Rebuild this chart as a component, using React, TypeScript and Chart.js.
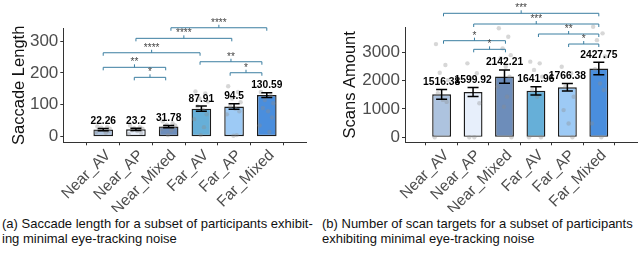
import React, { useEffect, useRef } from 'react';
import { Chart, registerables } from 'chart.js';
Chart.register(...registerables);

const FONT = "'Liberation Sans', Arial, Helvetica, sans-serif";

const categories = ['Near_AV', 'Near_AP', 'Near_Mixed', 'Far_AV', 'Far_AP', 'Far_Mixed'];
const barColors = ['#adc3df', '#e7effb', '#6d8dba', '#66afd8', '#9dcaf5', '#4a8edd'];

// (a) Saccade length
const saccadeMeans = [22.26, 23.2, 31.78, 87.91, 94.5, 130.59];
const saccadeLabels = ['22.26', '23.2', '31.78', '87.91', '94.5', '130.59'];
const saccadeSE = [3.5, 3.5, 3.5, 8, 8.5, 7.5];
const saccadeTicks = [0, 100, 200, 300];
const saccadePoints = [
  [32, 30, 28, 25, 22, 20, 18, 15, 12],
  [35, 30, 27, 25, 20, 18, 12, 8],
  [48, 42, 38, 35, 32, 30, 28, 25, 20, 5],
  [142, 136, 120, 110, 95, 85, 70, 55, 30, 5],
  [158, 140, 120, 108, 95, 88, 80, 70, 5, 3],
  [140, 128, 115, 105, 90, 80, 60, 35, 15],
];
const saccadeBrackets = [
  { from: 2.07, to: 5.0, y: 341.7, label: '****' },
  { from: 1.0, to: 3.93, y: 308.5, label: '****' },
  { from: 0.0, to: 2.96, y: 263.3, label: '****' },
  { from: 0.0, to: 1.91, y: 217.6, label: '**' },
  { from: 0.95, to: 1.91, y: 186.2, label: '*' },
  { from: 2.96, to: 4.85, y: 235.1, label: '**' },
  { from: 3.88, to: 4.85, y: 200.6, label: '*' },
];

// (b) Scans amount
const scansMeans = [1516.38, 1599.92, 2142.21, 1641.96, 1766.38, 2427.75];
const scansLabels = ['1516.38', '1599.92', '2142.21', '1641.96', '1766.38', '2427.75'];
const scansSE = [170, 160, 235, 145, 130, 220];
const scansTicks = [0, 1000, 2000, 3000];
const scansPoints = [
  [3290, 2550, 2280, 2020, 1560, 1320, 1250, 0],
  [2610, 2260, 2080, 1200, 0, 0],
  [3850, 3550, 3140, 2900, 2790, 2490, 2140, 1790, 1430, 1080, 0],
  [2670, 2610, 2380, 2140, 1670, 1430, 0, 0],
  [2490, 2260, 1790, 1430, 960, 490, 0],
  [3900, 3670, 3430, 2850, 2400, 1900, 1670, 490, 0],
];
const scansBrackets = [
  { from: 0.06, to: 5.0, y: 4377, label: '***' },
  { from: 1.02, to: 5.0, y: 3999, label: '***' },
  { from: 3.08, to: 5.0, y: 3646, label: '**' },
  { from: 0.06, to: 2.03, y: 3410, label: '*' },
  { from: 4.04, to: 5.0, y: 3293, label: '*' },
  { from: 1.02, to: 2.03, y: 3106, label: '*' },
];

const JITTER = [-0.18, 0.12, -0.06, 0.2, -0.12, 0.04, 0.16, -0.22, 0.08, -0.02, 0.22, -0.14];

type Bracket = { from: number; to: number; y: number; label: string };

type PanelProps = {
  width: number;
  height: number;
  means: number[];
  labels: string[];
  se: number[];
  ticks: number[];
  points: number[][];
  brackets: Bracket[];
  yMin: number;
  yMax: number;
  xMin: number;
  xMax: number;
  title: string;
  titlePad: number;
  axisWidth: number;
  padTop: number;
  padRight: number;
  plotBottom: number;
  tickFont: number;
  valueFont: number;
};

function Panel(p: PanelProps) {
  const ref = useRef<HTMLCanvasElement | null>(null);
  useEffect(() => {
    const canvas = ref.current!;
    const overlay = {
      id: 'overlay',
      afterDatasetsDraw(chart: any) {
        const ctx = chart.ctx;
        const xs = chart.scales.x;
        const ys = chart.scales.y;
        ctx.save();
        // error bars and value labels
        ctx.strokeStyle = '#000';
        ctx.lineWidth = 1.5;
        p.means.forEach((m, i) => {
          const x = xs.getPixelForValue(i);
          const yt = ys.getPixelForValue(m + p.se[i]);
          const yb = ys.getPixelForValue(m - p.se[i]);
          ctx.beginPath();
          ctx.moveTo(x, yt); ctx.lineTo(x, yb);
          ctx.moveTo(x - 5.5, yt); ctx.lineTo(x + 5.5, yt);
          ctx.moveTo(x - 5.5, yb); ctx.lineTo(x + 5.5, yb);
          ctx.stroke();
          ctx.fillStyle = '#000';
          ctx.font = `bold ${p.valueFont}px ${FONT}`;
          ctx.textAlign = 'center';
          ctx.textBaseline = 'alphabetic';
          ctx.fillText(p.labels[i], x, yt - 4.5);
        });
        // significance brackets
        ctx.strokeStyle = '#3b7ea1';
        ctx.lineWidth = 1;
        p.brackets.forEach((b) => {
          const x1 = xs.getPixelForValue(b.from);
          const x2 = xs.getPixelForValue(b.to);
          const y = ys.getPixelForValue(b.y);
          const xm = (x1 + x2) / 2;
          ctx.beginPath();
          ctx.moveTo(x1, y + 3); ctx.lineTo(x1, y); ctx.lineTo(x2, y); ctx.lineTo(x2, y + 3);
          ctx.moveTo(xm, y); ctx.lineTo(xm, y - 3);
          ctx.stroke();
          ctx.fillStyle = '#444';
          ctx.font = `10px ${FONT}`;
          ctx.textAlign = 'center';
          ctx.textBaseline = 'alphabetic';
          ctx.fillText(b.label, xm, y - 2);
        });
        ctx.restore();
      },
    };
    const scatterData: { x: number; y: number }[] = [];
    p.points.forEach((vals, ci) =>
      vals.forEach((v, j) => scatterData.push({ x: ci + JITTER[j % JITTER.length], y: v }))
    );
    const chart = new Chart(canvas, {
      type: 'bar',
      data: {
        datasets: [
          {
            type: 'bar',
            data: p.means.map((m, i) => ({ x: i, y: m })),
            backgroundColor: barColors,
            borderColor: '#1c1c1c',
            borderWidth: 1.4,
            borderSkipped: false,
            barPercentage: 0.6,
            categoryPercentage: 1,
            order: 2,
          } as any,
          {
            type: 'scatter',
            data: scatterData,
            backgroundColor: 'rgba(140,140,140,0.35)',
            borderWidth: 0,
            pointRadius: 2.2,
            clip: false,
            order: 1,
          } as any,
        ],
      },
      options: {
        responsive: false,
        animation: false,
        devicePixelRatio: 1,
        layout: { padding: { top: p.padTop, right: p.padRight, left: 0, bottom: 0 } },
        plugins: { legend: { display: false }, tooltip: { enabled: false } },
        scales: {
          x: {
            type: 'linear',
            min: p.xMin,
            max: p.xMax,
            afterBuildTicks: (s: any) => { s.ticks = categories.map((_, i) => ({ value: i })); },
            afterFit: (s: any) => { s.height = p.height - p.plotBottom; },
            ticks: {
              autoSkip: false,
              minRotation: 45,
              maxRotation: 45,
              padding: 1,
              labelOffset: 5,
              color: '#4d4d4d',
              font: { family: FONT, size: 15.5 },
              callback: (v: any) => categories[v] ?? '',
            },
            grid: { display: true, drawOnChartArea: false, drawTicks: true, tickLength: 3, color: '#333' },
            border: { display: true, color: '#333', width: 1 },
          },
          y: {
            type: 'linear',
            min: p.yMin,
            max: p.yMax,
            afterBuildTicks: (s: any) => { s.ticks = p.ticks.map((v) => ({ value: v })); },
            afterFit: (s: any) => { s.width = p.axisWidth; },
            ticks: {
              padding: 2,
              color: '#4d4d4d',
              font: { family: FONT, size: p.tickFont },
              callback: (v: any) => String(v),
            },
            title: {
              display: true,
              text: p.title,
              color: '#111',
              font: { family: FONT, size: 16.5 },
              padding: { top: p.titlePad, bottom: 0 },
            },
            grid: { display: true, drawOnChartArea: false, drawTicks: true, tickLength: 3, color: '#333' },
            border: { display: true, color: '#333', width: 1 },
          },
        },
      } as any,
      plugins: [overlay],
    });
    return () => chart.destroy();
  }, []);
  return (
    <canvas
      ref={ref}
      width={p.width}
      height={p.height}
      style={{ width: p.width + 'px', height: p.height + 'px', display: 'block' }}
    />
  );
}

const captionStyle: React.CSSProperties = {
  position: 'absolute',
  top: 216,
  fontFamily: FONT,
  fontSize: 13,
  lineHeight: '15px',
  color: '#111',
  whiteSpace: 'nowrap',
};

export default function App() {
  return (
    <div
      style={{
        position: 'absolute',
        left: 0,
        top: 0,
        width: 641,
        height: 259,
        overflow: 'hidden',
        background: '#fff',
      }}
    >
      <div style={{ position: 'absolute', left: 0, top: 0 }}>
        <Panel
          width={320}
          height={212}
          means={saccadeMeans}
          labels={saccadeLabels}
          se={saccadeSE}
          ticks={saccadeTicks}
          points={saccadePoints}
          brackets={saccadeBrackets}
          yMin={-17.6}
          yMax={340}
          xMin={-0.6}
          xMax={5.6}
          title="Saccade Length"
          titlePad={9.1}
          axisWidth={63.3}
          padTop={28.3}
          padRight={13.3}
          plotBottom={142.3}
          tickFont={17}
          valueFont={10.2}
        />
      </div>
      <div style={{ position: 'absolute', left: 320, top: 0 }}>
        <Panel
          width={321}
          height={212}
          means={scansMeans}
          labels={scansLabels}
          se={scansSE}
          ticks={scansTicks}
          points={scansPoints}
          brackets={scansBrackets}
          yMin={-176}
          yMax={3883}
          xMin={-0.55}
          xMax={5.6}
          title="Scans Amount"
          titlePad={20.9}
          axisWidth={85}
          padTop={27.3}
          padRight={1.7}
          plotBottom={142.3}
          tickFont={17}
          valueFont={10.3}
        />
      </div>
      <div style={{ ...captionStyle, left: 2 }}>
        (a) Saccade length for a subset of participants exhibit-
        <br />
        ing minimal eye-tracking noise
      </div>
      <div style={{ ...captionStyle, left: 322 }}>
        (b) Number of scan targets for a subset of participants
        <br />
        exhibiting minimal eye-tracking noise
      </div>
    </div>
  );
}
